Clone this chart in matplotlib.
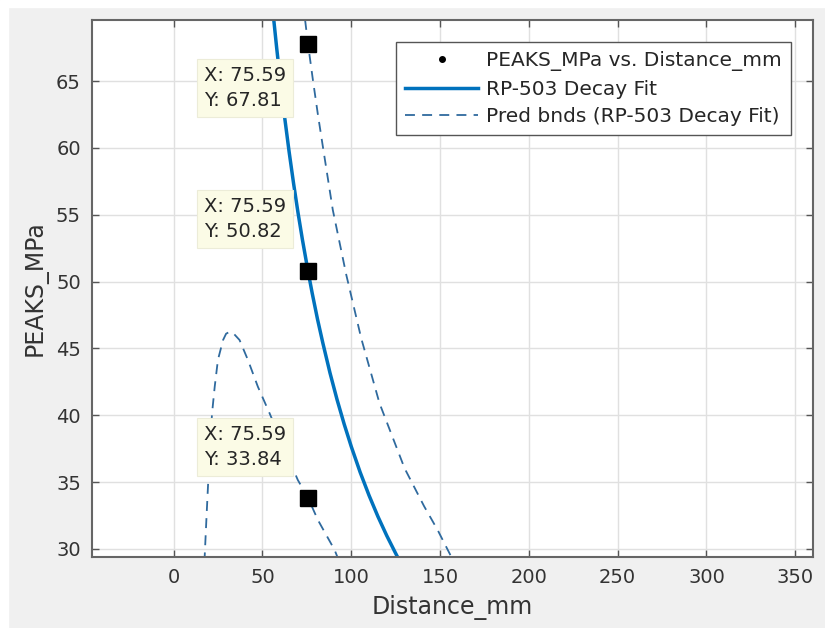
import matplotlib
matplotlib.use("Agg")
import matplotlib.pyplot as plt
from matplotlib.patches import Rectangle

# curve values
fit_x = [56.0, 58.0, 60.0, 62.5, 65.0, 67.5, 70.0, 72.5, 75.59, 78.0, 81.0, 84.0, 88.0,
         92.0, 96.0, 100.0, 105.0, 110.0, 115.0, 120.0, 125.0, 127.0]
fit_y = [70.04, 67.47, 65.07, 62.27, 59.71, 57.35, 55.16, 53.13, 50.82, 49.13, 47.18, 45.4, 43.18,
         41.17, 39.34, 37.66, 35.74, 34.01, 32.43, 30.99, 29.67, 29.16]

upper_x = [74.0, 75.59, 78.4, 81.2, 84.0, 89.6, 97.2, 105.6, 115.9, 130.0, 141.0, 148.7, 156.3]
upper_y = [69.57, 67.81, 65.08, 62.5, 60.1, 55.36, 50.5, 45.76, 40.9, 36.04, 33.2, 31.4, 29.42]

lower_x = [17.3, 18.4, 19.3, 20.4, 21.6, 23.1, 24.9, 27.8, 29.5, 31.5, 33.5, 37.1, 41.8,
           47.4, 54.0, 62.0, 69.9, 75.59, 81.2, 90.6, 92.2]
lower_y = [29.0, 32.17, 34.66, 37.6, 40.15, 42.14, 44.14, 45.63, 46.1, 46.25, 46.15, 45.63, 44.14,
           42.14, 40.15, 37.6, 35.16, 33.84, 32.17, 29.93, 29.4]

peaks_x = []   # raw data points are not visible in this view
peaks_y = []

tip_x = [75.59, 75.59, 75.59]
tip_y = [67.81, 50.82, 33.84]

blue = '#0072BD'
bnd_color = '#2f6a9e'

fig = plt.figure(figsize=(8.25, 6.28), dpi=100, facecolor='#f0f0f0')
# thin white strip left/top from the screenshot
fig.patches.append(Rectangle((0, 0), 8 / 825, 1, transform=fig.transFigure, color='white', zorder=-1))
fig.patches.append(Rectangle((0, 1 - 7 / 628), 1, 7 / 628, transform=fig.transFigure, color='white', zorder=-1))

ax = fig.add_axes([92 / 825, 1 - 557 / 628, (813 - 92) / 825, (557 - 20) / 628])
ax.set_facecolor('white')

ax.plot(peaks_x, peaks_y, '.', color='black', markersize=8, label='PEAKS_MPa vs. Distance_mm')
ax.plot(fit_x, fit_y, '-', color=blue, linewidth=2.5, label='RP-503 Decay Fit')
ax.plot(upper_x, upper_y, '--', color=bnd_color, linewidth=1.3, dashes=(5.5, 4),
        label='Pred bnds (RP-503 Decay Fit)')
ax.plot(lower_x, lower_y, '--', color=bnd_color, linewidth=1.3, dashes=(5.5, 4))

ax.plot(tip_x, tip_y, 's', color='black', markersize=11, zorder=5)

# datatip boxes
offsets = [(-104, -22), (-104, 74), (-104, 73)]
for x, y, off in zip(tip_x, tip_y, offsets):
    ax.annotate(f'X: {x:.2f}\nY: {y:.2f}', xy=(x, y), xytext=off, textcoords='offset pixels',
                ha='left', va='top', fontsize=14, color='#262626', linespacing=1.45,
                bbox=dict(boxstyle='square,pad=0.35', facecolor='#fbfbe6', edgecolor='#ececd8',
                          linewidth=0.8), zorder=6)

ax.set_xlim(-46, 360)
ax.set_ylim(29.4, 69.57)
ax.set_xticks(range(0, 351, 50))
ax.set_yticks(range(30, 66, 5))
ax.grid(True, color='#e0e0e0', linewidth=1)
ax.set_axisbelow(True)

ax.tick_params(direction='in', length=5, width=1, top=True, right=True,
               labelsize=14, colors='#555555', labelcolor='#333333', pad=8)
for s in ax.spines.values():
    s.set_color('#666666')
    s.set_linewidth(1.5)

ax.set_xlabel('Distance_mm', fontsize=17, color='#333333', labelpad=6)
ax.set_ylabel('PEAKS_MPa', fontsize=17, color='#333333', labelpad=6)

leg = ax.legend(loc='upper right', fontsize=14.5, handlelength=3.6, handletextpad=0.4,
                labelspacing=0.42, borderpad=0.45, borderaxespad=1.1, fancybox=False,
                framealpha=1, edgecolor='#555555')
leg.get_frame().set_linewidth(1.0)
for t in leg.get_texts():
    t.set_color('#262626')

fig.savefig('out.png', dpi=100, facecolor=fig.get_facecolor())
